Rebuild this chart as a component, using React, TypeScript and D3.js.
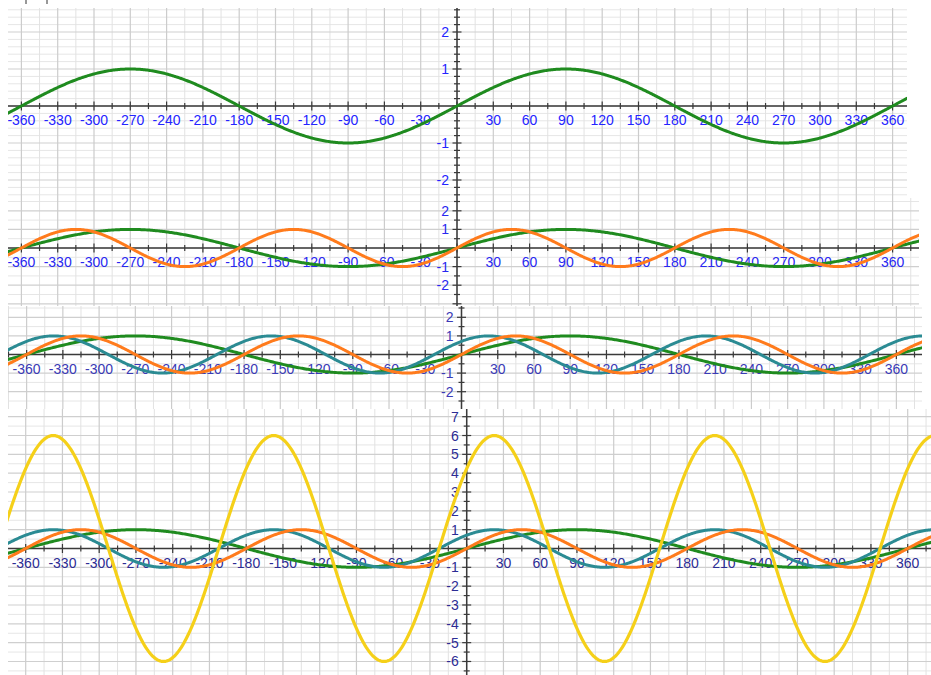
import React from "react";
import * as d3 from "d3";

// ---- data ----
const xTickLabels = [
  -360, -330, -300, -270, -240, -210, -180, -150, -120, -90, -60, -30,
  30, 60, 90, 120, 150, 180, 210, 240, 270, 300, 330, 360,
];
const yTickLabelsSmall = [-2, -1, 1, 2];
const yTickLabelsMedium = [-2, -1, 1, 2];
const yTickLabelsLarge = [-6, -5, -4, -3, -2, -1, 1, 2, 3, 4, 5, 6, 7];

const seriesNames = ["y = sin x", "y = sin 2x", "y = sin(2x + 45°)", "y = 6 sin(2x + 45°)"];
const seriesAmplitude = [1, 1, 1, 6];
const seriesFrequency = [1, 2, 2, 2];
const seriesPhaseDeg = [0, 0, 45, 45];
const seriesColor = ["#1f8b1f", "#ff7b1c", "#2b8b93", "#f5d019"];

// which series appear in each stacked panel
const panelSeries = [[0], [0, 1], [0, 2, 1], [0, 2, 1, 3]];
const panelYTickLabels = [yTickLabelsSmall, yTickLabelsMedium, yTickLabelsMedium, yTickLabelsLarge];

// ---- layout / style ----
const W = 931;
const H = 675;
const panelLayout = [
  { left: 8, top: 8, right: 907, bottom: 198, x0: 457, kx: 1.21, y0: 106, ky: 37, minorY: 0.2, label: "#2424ff" },
  { left: 8, top: 198, right: 919, bottom: 306, x0: 457, kx: 1.21, y0: 248, ky: 18.6, minorY: 0.5, label: "#2828f0" },
  { left: 8, top: 306, right: 922, bottom: 409, x0: 461.5, kx: 1.208, y0: 354.5, ky: 18.6, minorY: 0.5, label: "#3a3ab6" },
  { left: 8, top: 409, right: 931, bottom: 675, x0: 466.7, kx: 1.225, y0: 548.5, ky: 18.83, minorY: 0.5, label: "#2c2c94" },
];

const FONT = "'Liberation Sans', Arial, sans-serif";

function Panel({ idx }: { idx: number }) {
  const p = panelLayout[idx];
  const x = d3.scaleLinear().domain([-360, 360]).range([p.x0 - 360 * p.kx, p.x0 + 360 * p.kx]);
  const y = d3.scaleLinear().domain([-1, 1]).range([p.y0 + p.ky, p.y0 - p.ky]);

  const degMin = x.invert(p.left);
  const degMax = x.invert(p.right);
  const valTop = y.invert(p.top);
  const valBot = y.invert(p.bottom);

  const vMinor = d3.range(Math.ceil(degMin / 15) * 15, degMax + 0.01, 15).filter((d) => d % 30 !== 0);
  const vMajor = d3.range(Math.ceil(degMin / 30) * 30, degMax + 0.01, 30);
  const hStart = Math.ceil(valBot / p.minorY) * p.minorY;
  const hAll = d3.range(Math.round(hStart / p.minorY), Math.floor(valTop / p.minorY) + 1).map((i) => +(i * p.minorY).toFixed(4));
  const hMajor = hAll.filter((v) => Math.abs(v - Math.round(v)) < 1e-6);
  const hMinor = hAll.filter((v) => Math.abs(v - Math.round(v)) >= 1e-6);

  const samples = d3.range(Math.floor(degMin) - 5, Math.ceil(degMax) + 6, 1);
  const line = d3
    .line<number>()
    .x((d) => x(d))
    .curve(d3.curveLinear);

  const yLabels = panelYTickLabels[idx].filter((v) => y(v) - 6 >= p.top && y(v) + 6 <= p.bottom);

  const clipId = `clip-${idx}`;
  const axis = "#3a3a3a";
  return (
    <g>
      <defs>
        <clipPath id={clipId}>
          <rect x={p.left} y={p.top} width={p.right - p.left} height={p.bottom - p.top} />
        </clipPath>
      </defs>
      <g clipPath={`url(#${clipId})`}>
        <rect x={p.left} y={p.top} width={p.right - p.left} height={p.bottom - p.top} fill="#ffffff" />
        {hMinor.map((v) => (
          <line key={`hm${v}`} x1={p.left} x2={p.right} y1={y(v)} y2={y(v)} stroke="#e6e6e6" strokeWidth={1} />
        ))}
        {vMinor.map((d) => (
          <line key={`vm${d}`} x1={x(d)} x2={x(d)} y1={p.top} y2={p.bottom} stroke="#e2e2e2" strokeWidth={1} />
        ))}
        {hMajor.map((v) => (
          <line key={`hM${v}`} x1={p.left} x2={p.right} y1={y(v)} y2={y(v)} stroke="#cfcfcf" strokeWidth={1.2} />
        ))}
        {vMajor.map((d) => (
          <line key={`vM${d}`} x1={x(d)} x2={x(d)} y1={p.top} y2={p.bottom} stroke="#cccccc" strokeWidth={1.2} />
        ))}
        {/* axes */}
        <line x1={p.left} x2={p.right} y1={y(0)} y2={y(0)} stroke={axis} strokeWidth={1.5} />
        <line x1={x(0)} x2={x(0)} y1={p.top} y2={p.bottom} stroke={axis} strokeWidth={1.5} />
        {vMinor.map((d) => (
          <line key={`tm${d}`} x1={x(d)} x2={x(d)} y1={y(0) - 3} y2={y(0) + 3} stroke={axis} strokeWidth={1.2} />
        ))}
        {vMajor.map((d) => (
          <line key={`tM${d}`} x1={x(d)} x2={x(d)} y1={y(0) - 4.5} y2={y(0) + 4.5} stroke={axis} strokeWidth={1.2} />
        ))}
        {hMinor.map((v) => (
          <line key={`ym${v}`} x1={x(0) - 3} x2={x(0) + 3} y1={y(v)} y2={y(v)} stroke={axis} strokeWidth={1.2} />
        ))}
        {hMajor.map((v) => (
          <line key={`yM${v}`} x1={x(0) - 4.5} x2={x(0) + 4.5} y1={y(v)} y2={y(v)} stroke={axis} strokeWidth={1.2} />
        ))}
        {/* tick labels */}
        {xTickLabels.map((d) => (
          <text
            key={`xl${d}`}
            x={x(d)}
            y={y(0) + 19}
            textAnchor="middle"
            fontFamily={FONT}
            fontSize={14}
            fill={p.label}
          >
            {d}
          </text>
        ))}
        {yLabels.map((v) => (
          <text
            key={`yl${v}`}
            x={x(0) - 8}
            y={y(v) + 5}
            textAnchor="end"
            fontFamily={FONT}
            fontSize={14}
            fill={p.label}
          >
            {v}
          </text>
        ))}
        {/* curves */}
        {panelSeries[idx].map((s) => (
          <path
            key={`s${s}`}
            d={
              line.y((d) =>
                y(seriesAmplitude[s] * Math.sin(((seriesFrequency[s] * d + seriesPhaseDeg[s]) * Math.PI) / 180))
              )(samples) || ""
            }
            fill="none"
            stroke={seriesColor[s]}
            strokeWidth={s === 3 ? 3.2 : 3}
            strokeLinejoin="round"
          >
            <title>{seriesNames[s]}</title>
          </path>
        ))}
      </g>
    </g>
  );
}

export default function App() {
  return (
    <svg
      width={W}
      height={H}
      viewBox={`0 0 ${W} ${H}`}
      style={{ position: "absolute", left: 0, top: 0, background: "#ffffff" }}
    >
      <rect x={0} y={0} width={W} height={H} fill="#ffffff" />
      <line x1={26} x2={26} y1={0} y2={4} stroke="#333" strokeWidth={1} />
      <line x1={47} x2={47} y1={0} y2={4} stroke="#333" strokeWidth={1} />
      {panelLayout.map((_, i) => (
        <Panel key={i} idx={i} />
      ))}
    </svg>
  );
}
